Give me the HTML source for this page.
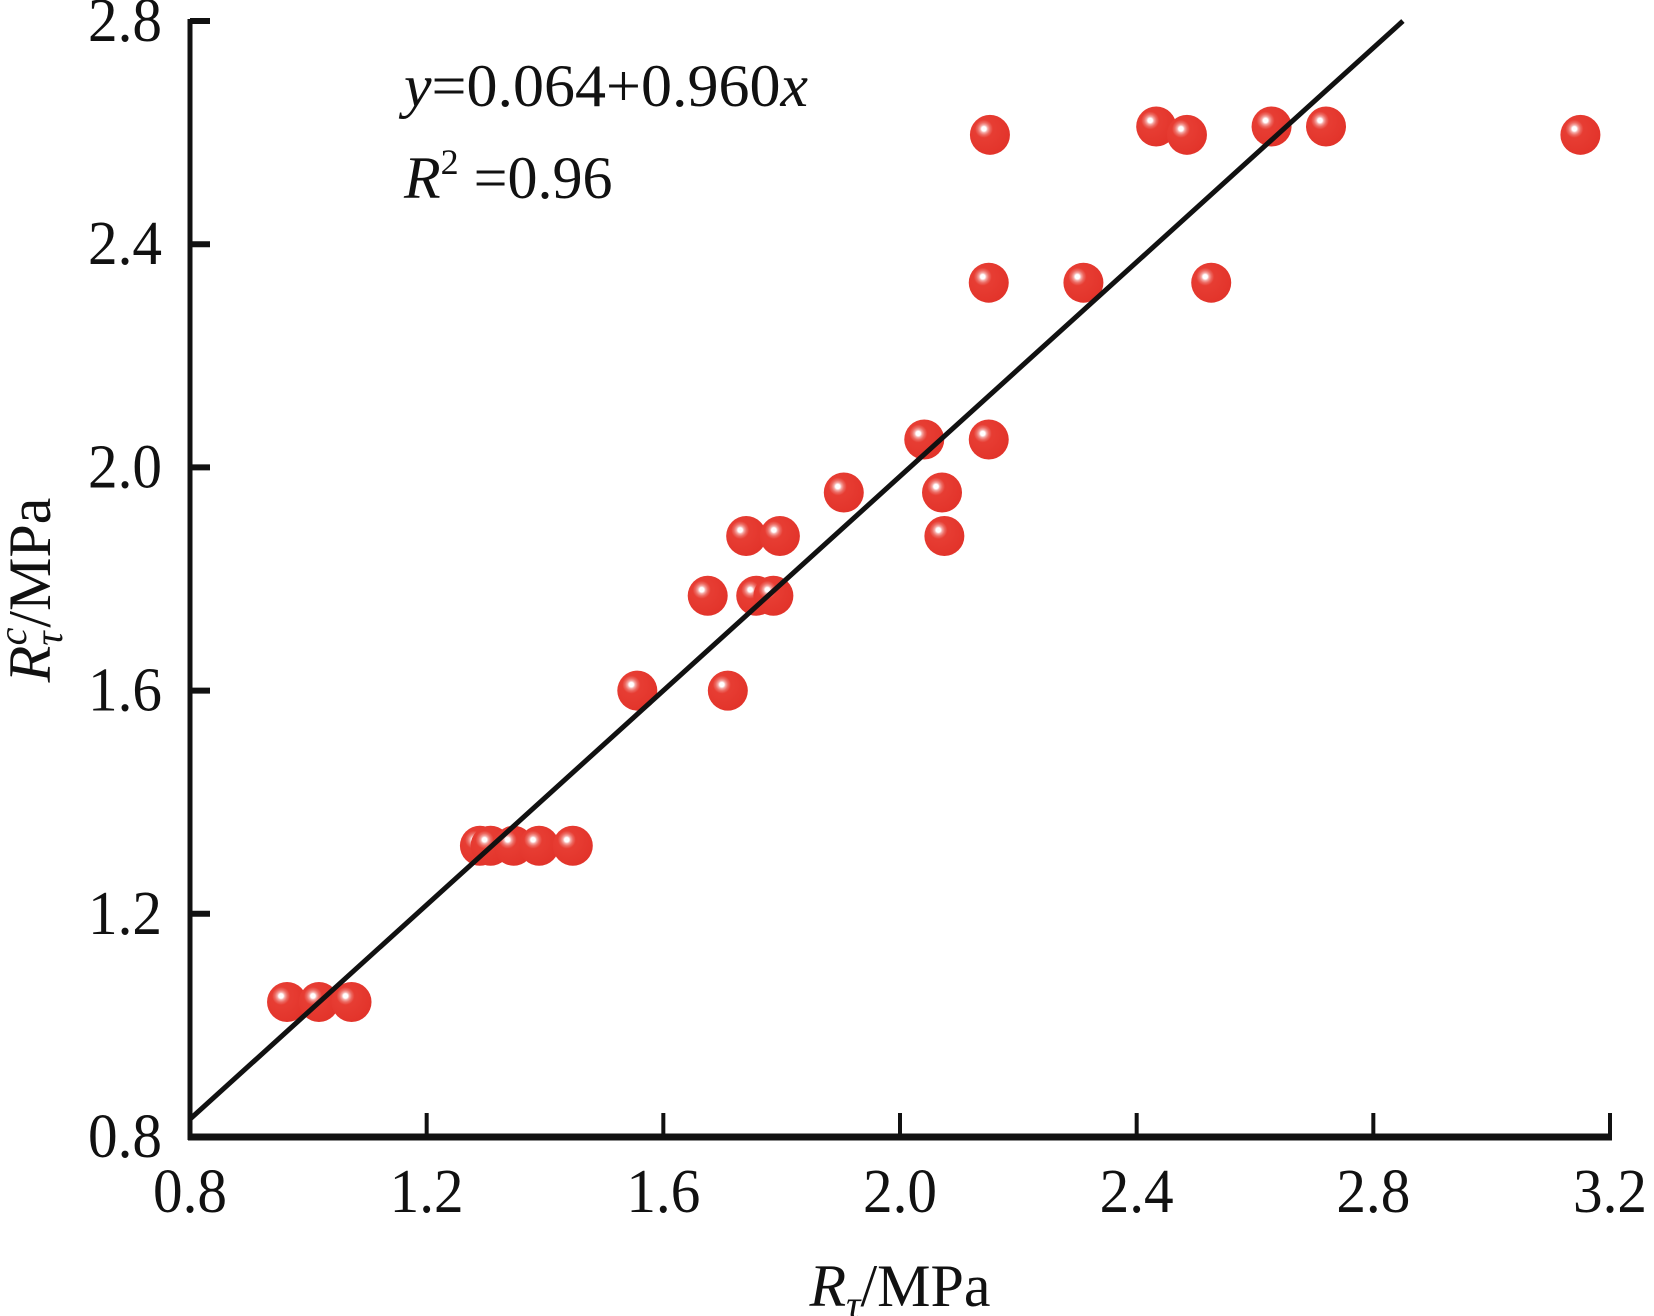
<!DOCTYPE html>
<html><head><meta charset="utf-8"><style>
html,body{margin:0;padding:0;background:#fff}
svg{display:block}
text{font-family:"Liberation Serif",serif;fill:#111}
</style></head><body>
<svg id="chart" width="1654" height="1316" viewBox="0 0 1654 1316" xmlns="http://www.w3.org/2000/svg">
<defs>
<radialGradient id="ball" cx="0.35" cy="0.35" r="0.7">
<stop offset="0" stop-color="#ffffff"/>
<stop offset="0.08" stop-color="#ffffff"/>
<stop offset="0.14" stop-color="#f4a8a4"/>
<stop offset="0.22" stop-color="#ec6a62"/>
<stop offset="0.32" stop-color="#e73d33"/>
<stop offset="1" stop-color="#e2332a"/>
</radialGradient>
</defs>
<g id="points"></g>
<g id="axes"></g>
<text x="404" y="106" font-size="60" textLength="404" lengthAdjust="spacingAndGlyphs"><tspan font-style="italic">y</tspan>=0.064+0.960<tspan font-style="italic">x</tspan></text>
<text x="404" y="198" font-size="60"><tspan font-style="italic">R</tspan><tspan font-size="36" dy="-24">2</tspan><tspan dy="24"> =0.96</tspan></text>
<text x="900" y="1306" font-size="60" text-anchor="middle"><tspan font-style="italic">R</tspan><tspan font-style="italic" font-size="40" dy="12">τ</tspan><tspan dy="-12">/MPa</tspan></text>
<text transform="translate(50,590) rotate(-90)" font-size="60" text-anchor="middle"><tspan font-style="italic">R</tspan><tspan font-style="italic" font-size="40" dy="12">τ</tspan><tspan font-style="italic" font-size="40" dx="-14" dy="-36">c</tspan><tspan dy="24">/MPa</tspan></text>
</svg>
<script>
const xVals=[0.964,1.018,1.073,1.290,1.308,1.347,1.390,1.447,1.556,1.709,1.675,1.757,1.786,1.740,1.797,1.905,2.041,2.150,2.071,2.075,2.150,2.310,2.526,2.152,2.433,2.485,2.628,2.720,3.150];
const yVals=[1.042,1.042,1.042,1.322,1.322,1.322,1.322,1.322,1.600,1.600,1.770,1.770,1.770,1.877,1.877,1.955,2.050,2.050,1.955,1.877,2.331,2.331,2.331,2.596,2.611,2.596,2.611,2.611,2.596];
const xTicks=[0.8,1.2,1.6,2.0,2.4,2.8,3.2];
const yTicks=[0.8,1.2,1.6,2.0,2.4,2.8];
const fitIntercept=0.064, fitSlope=0.960, fitXEnd=2.85;
const X0=190,X1=1610,Y0=1137,Y1=21;
const sx=v=>X0+(v-0.8)/2.4*(X1-X0);
const sy=v=>Y0-(v-0.8)/2.0*(Y0-Y1);
const NS='http://www.w3.org/2000/svg';
function mk(tag,attrs,parent){const e=document.createElementNS(NS,tag);for(const k in attrs)e.setAttribute(k,attrs[k]);parent.appendChild(e);return e;}
const pts=document.getElementById('points');
const ax=document.getElementById('axes');
xVals.forEach((x,i)=>{
 const c=mk('circle',{cx:sx(x),cy:sy(yVals[i]),r:20,fill:'url(#ball)'},pts);
 
 
});
const fl=mk('line',{x1:sx(0.8),y1:sy(fitIntercept+fitSlope*0.8),x2:sx(fitXEnd),y2:sy(fitIntercept+fitSlope*fitXEnd),stroke:'#111','stroke-width':5},ax);


const ya=mk('line',{x1:X0,y1:Y1-2,x2:X0,y2:Y0+3,stroke:'#111','stroke-width':5},ax);


const xa=mk('line',{x1:X0-2,y1:Y0,x2:X1+2,y2:Y0,stroke:'#111','stroke-width':7},ax);


xTicks.forEach(t=>{
 const l=mk('line',{x1:sx(t),y1:Y0,x2:sx(t),y2:Y0-24,stroke:'#111','stroke-width':4},ax);
 
 
 const tx=mk('text',{x:sx(t),y:Y0+75,'font-size':62,'text-anchor':'middle',textLength:74,lengthAdjust:'spacingAndGlyphs'},ax);
 tx.textContent=t.toFixed(1);
 
 
});
yTicks.forEach(t=>{
 const l=mk('line',{x1:X0,y1:sy(t),x2:X0+20,y2:sy(t),stroke:'#111','stroke-width':6},ax);
 
 
 const tx=mk('text',{x:X0-28,y:sy(t)+20,'font-size':62,'text-anchor':'end',textLength:74,lengthAdjust:'spacingAndGlyphs'},ax);
 tx.textContent=t.toFixed(1);
 
 
});
</script>
</body></html>
